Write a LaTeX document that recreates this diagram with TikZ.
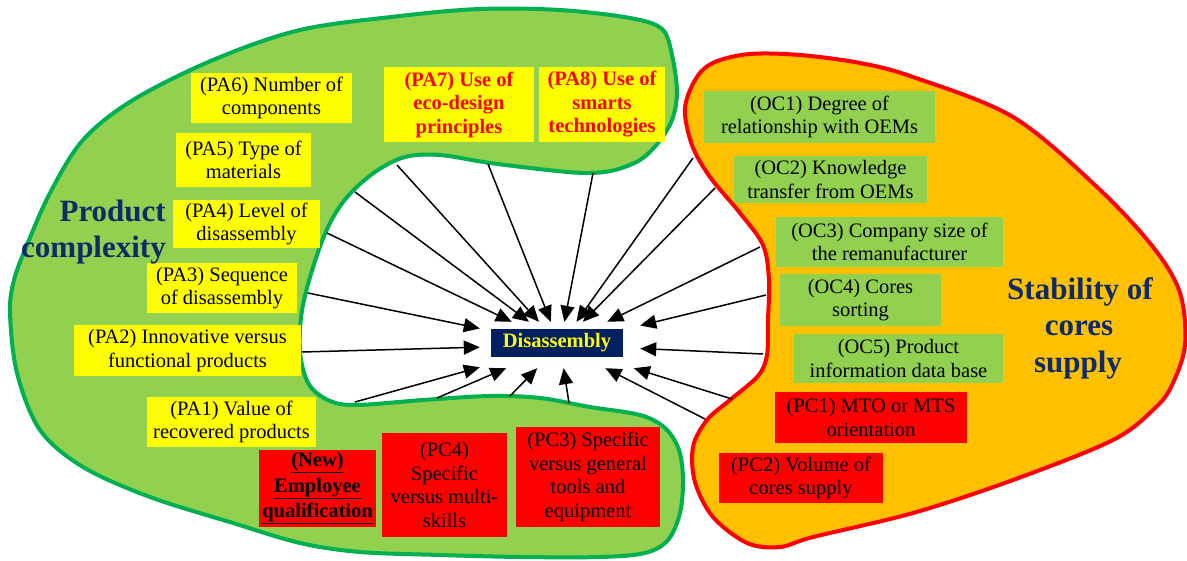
\documentclass[tikz,border=0pt]{standalone}
\usepackage{fontspec}
\setmainfont{Liberation Serif}
\usetikzlibrary{arrows.meta}
\definecolor{blobgreen}{HTML}{92D050}
\definecolor{rimgreen}{HTML}{00B050}
\definecolor{bloborange}{HTML}{FFC000}
\definecolor{rimred}{HTML}{FF0000}
\definecolor{navy}{HTML}{002060}
\definecolor{titleblue}{HTML}{0F2A68}
\definecolor{boxyellow}{HTML}{FFFF00}
\definecolor{boxred}{HTML}{FF0000}
\definecolor{boxgreen}{HTML}{92D050}
\begin{document}
\begin{tikzpicture}[x=1pt,y=-1pt,
  box/.style={inner sep=0pt, align=center, font=\fontsize{20.5}{23.5}\selectfont},
  ybox/.style={box, fill=boxyellow},
  rbox/.style={box, fill=boxred},
  gbox/.style={box, fill=boxgreen},
  hot/.style={text=rimred, font=\fontsize{20.5}{23.5}\selectfont\bfseries},
  title/.style={inner sep=0pt, text=titleblue, font=\fontsize{31}{36}\selectfont\bfseries},
  arr/.style={line width=1.5pt, -{Triangle[length=16pt,width=14pt]}},
  blob/.style={line width=4pt, line join=round},
]
\fill[white] (0,0) rectangle (1187,561);
\useasboundingbox (0,0) rectangle (1187,561);

% product complexity area (C-shaped, open to the right)
\draw[blob, draw=rimgreen, fill=blobgreen] plot[smooth cycle, tension=0.55] coordinates {
  (213,60) (300,30) (400,16) (480,9) (560,10) (630,18) (662,29) (672,55) (677,92)
  (672,120) (658,143) (640,160) (615,170) (590,173) (557,171) (490,163) (440,155)
  (405,157) (375,172) (348,196) (330,223) (316,258) (304,300) (300,330) (301,360)
  (310,386) (330,401) (357,405) (423,400) (490,396) (540,398) (590,407) (640,415)
  (665,428) (679,450) (683,480) (680,513) (668,540) (645,553) (600,557) (520,557)
  (440,555) (360,552) (300,543) (233,523) (150,497) (83,467) (40,430) (17,373)
  (10,313) (14,280) (27,245) (50,193) (83,140) (133,100)};

% cores supply area
\draw[blob, draw=rimred, fill=bloborange] plot[smooth cycle, tension=0.55] coordinates {
  (685,108) (697,77) (715,62) (750,54) (800,55) (860,63) (913,77) (1013,117)
  (1097,187) (1153,247) (1180,293) (1185,345) (1172,385) (1155,408) (1113,440)
  (1013,480) (913,513) (813,537) (780,547) (747,543) (713,517) (695,482) (693,447)
  (707,420) (730,400) (758,376) (767,355) (768,320) (769,280) (763,245) (740,213)
  (710,177) (692,145)};

% central factor
\node[fill=navy, text=boxyellow, inner sep=0pt, minimum width=132, minimum height=28,
      font=\fontsize{20.5}{23.5}\selectfont\bfseries] (dis) at (557,343) {Disassembly};
\node[inner sep=0pt, minimum width=160, minimum height=46] (hub) at (560,345) {};

% arrow origins on the area borders
\coordinate (s1) at (397,165);
\coordinate (s2) at (355,192);
\coordinate (s3) at (327,233);
\coordinate (s4) at (308,293);
\coordinate (s5) at (302,352);
\coordinate (s6) at (355,402);
\coordinate (s7) at (437,398);
\coordinate (s8) at (510,396);
\coordinate (s9) at (569,403);
\coordinate (s10) at (488,164);
\coordinate (s11) at (593,173);
\coordinate (r1) at (693,158);
\coordinate (r2) at (715,188);
\coordinate (r3) at (760,247);
\coordinate (r4) at (766,295);
\coordinate (r5) at (763,354);
\coordinate (r6) at (732,399);
\coordinate (r7) at (705,419);
\foreach \s in {s1,s2,s3,s4,s5,s6,s7,s8,s9,s10,s11,r1,r2,r3,r4,r5,r6,r7}
  \draw[arr] (\s) -- (hub);

% product attributes
\node[ybox, minimum width=161, minimum height=50] (pa6) at (271.5,98) {(PA6) Number of\\components};
\node[ybox, minimum width=135, minimum height=54] (pa5) at (243.5,160) {(PA5) Type of\\materials};
\node[ybox, minimum width=147, minimum height=48] (pa4) at (246.5,224) {(PA4) Level of\\disassembly};
\node[ybox, minimum width=150, minimum height=50] (pa3) at (222,288) {(PA3) Sequence\\of disassembly};
\node[ybox, minimum width=227, minimum height=51] (pa2) at (187.5,350.5) {(PA2) Innovative versus\\functional products};
\node[ybox, minimum width=169, minimum height=50] (pa1) at (231.5,422) {(PA1) Value of\\recovered products};
\node[ybox, hot, minimum width=150, minimum height=75] (pa7) at (459,104.5) {(PA7) Use of\\eco-design\\principles};
\node[ybox, hot, minimum width=126, minimum height=75] (pa8) at (602,104.5) {(PA8) Use of\\smarts\\technologies};

% process characteristics
\node[rbox, font=\fontsize{20.5}{25.5}\selectfont\bfseries, minimum width=117, minimum height=77] (new) at (317.5,488.5)
  {\underline{(New)}\\\underline{Employee}\\\underline{qualification}};
\node[rbox, minimum width=125, minimum height=104] (pc4) at (444.5,485) {(PC4)\\Specific\\versus multi-\\skills};
\node[rbox, minimum width=144, minimum height=100] (pc3) at (588,477) {(PC3) Specific\\versus general\\tools and\\equipment};
\node[rbox, minimum width=192, minimum height=51] (pc1) at (871,417.5) {(PC1) MTO or MTS\\orientation};
\node[rbox, minimum width=164, minimum height=50] (pc2) at (801,478) {(PC2) Volume of\\cores supply};

% operational characteristics
\node[gbox, minimum width=231, minimum height=52] (oc1) at (819.5,117) {(OC1) Degree of\\relationship with OEMs};
\node[gbox, minimum width=193, minimum height=47] (oc2) at (830.5,179.5) {(OC2) Knowledge\\transfer from OEMs};
\node[gbox, minimum width=227, minimum height=50] (oc3) at (889.5,242) {(OC3) Company size of\\the remanufacturer};
\node[gbox, minimum width=161, minimum height=52] (oc4) at (860.5,300) {(OC4) Cores\\sorting};
\node[gbox, minimum width=209, minimum height=49] (oc5) at (898.5,358.5) {(OC5) Product\\information data base};

% area titles
\node[title, anchor=base east] (tpa) at (166,222) {Product};
\node[title, anchor=base east] (tpb) at (166,258) {complexity};
\node[title, anchor=base] (tsa) at (1080,300) {Stability of};
\node[title, anchor=base] (tsb) at (1079,336) {cores};
\node[title, anchor=base] (tsc) at (1078,373) {supply};
\end{tikzpicture}
\end{document}
